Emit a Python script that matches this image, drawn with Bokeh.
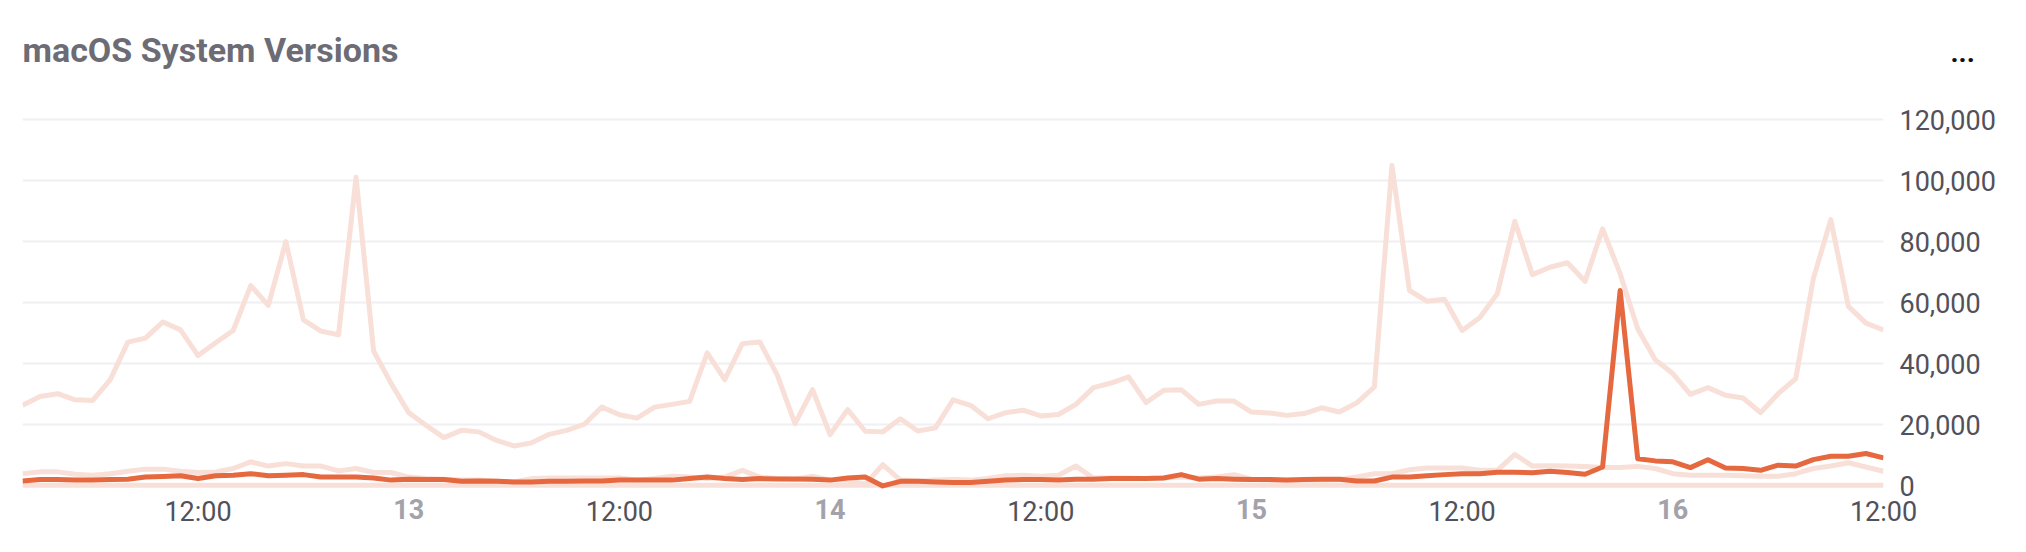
import pandas as pd
from bokeh.plotting import figure
from bokeh.models import (Range1d, FixedTicker, NumeralTickFormatter,
                          DatetimeTickFormatter, DatetimeAxis, LinearAxis)
from bokeh.embed import file_html
from bokeh.resources import INLINE

# ---------------- data (hourly samples) ----------------
start_time = "2024-03-12 02:00"
n_points = 107

series_main = [
    26400, 29300, 30200, 28200, 28000, 34800, 47100, 48400, 53700, 51100,
    42700, 46900, 50900, 65600, 59100, 80000, 54400, 50700, 49500, 101100,
    44200, 33500, 24000, 19800, 15800, 18200, 17700, 14900, 13100, 14100,
    16900, 18200, 20200, 25800, 23300, 22200, 25800, 26700, 27700, 43600,
    34800, 46600, 47100, 36200, 20400, 31500, 16800, 25000, 17900, 17700,
    22000, 18000, 19000, 28200, 26400, 22000, 24000, 24800, 22900, 23400,
    26700, 32200, 33700, 35700, 27300, 31300, 31500, 26700, 27800, 27800,
    24200, 23900, 23100, 23700, 25600, 24200, 27200, 32400, 104900, 64000,
    60500, 61100, 50900, 55100, 62900, 86700, 69200, 71600, 73100, 67000,
    84200, 69500, 51500, 41300, 36800, 30000, 32200, 29700, 28800, 24000,
    30200, 35100, 67800, 87200, 58800, 53300, 51100,
]

series_minor = [
    4000, 4600, 4600, 3800, 3500, 4000, 4800, 5500, 5500, 4800,
    4400, 4600, 5700, 7900, 6500, 7300, 6500, 6500, 4900, 5700,
    4400, 4400, 2900, 2400, 2200, 1900, 1900, 1600, 1300, 2400,
    2600, 2600, 2600, 2600, 2600, 1900, 2400, 3200, 2900, 2400,
    2900, 5100, 2900, 2400, 2100, 3200, 1900, 1900, 500, 7000,
    1900, 1600, 1900, 2100, 1900, 2400, 3300, 3500, 3200, 3500,
    6500, 2600, 2600, 2600, 2400, 2600, 2900, 2600, 2900, 3700,
    2200, 1900, 1600, 1900, 1900, 2100, 2900, 4000, 4000, 5300,
    5900, 5900, 5900, 5100, 5100, 10300, 6500, 6600, 6500, 6400,
    6000, 6000, 6400, 5700, 4000, 3500, 3500, 3500, 3300, 3200,
    3200, 4000, 5700, 6500, 7600, 6200, 4800,
]

series_flat = [
    200, 200, 200, 200, 200, 200, 200, 200, 200, 200,
    200, 200, 200, 200, 200, 200, 200, 200, 200, 200,
    200, 200, 200, 200, 200, 200, 200, 200, 200, 200,
    200, 200, 200, 200, 200, 200, 200, 200, 200, 200,
    200, 200, 200, 200, 200, 200, 200, 200, 200, 200,
    200, 200, 200, 200, 200, 200, 200, 200, 200, 200,
    200, 200, 200, 200, 200, 200, 200, 200, 200, 200,
    200, 200, 200, 200, 200, 200, 200, 200, 200, 200,
    200, 200, 200, 200, 200, 200, 200, 200, 200, 200,
    200, 200, 200, 200, 200, 200, 200, 200, 200, 200,
    200, 200, 200, 200, 200, 200, 200,
]

series_highlight = [
    1600, 2100, 2100, 1900, 1900, 2100, 2200, 2900, 3100, 3300,
    2400, 3300, 3500, 4000, 3300, 3500, 3700, 2900, 2900, 2900,
    2600, 1900, 2200, 2100, 2100, 1500, 1600, 1500, 1300, 1300,
    1500, 1500, 1600, 1600, 1900, 1900, 1900, 1900, 2400, 2900,
    2400, 2100, 2400, 2300, 2300, 2200, 1900, 2600, 2900, 0,
    1500, 1500, 1300, 1100, 1100, 1500, 1900, 2100, 2100, 1900,
    2200, 2200, 2400, 2400, 2400, 2600, 3700, 2200, 2400, 2200,
    2100, 2100, 1900, 2100, 2200, 2200, 1600, 1600, 2900, 2900,
    3300, 3700, 4000, 4000, 4500, 4500, 4300, 4800, 4400, 3800,
    6200, 64000, 8900, 8200, 7900, 6000, 8600, 5900, 5700, 5100,
    6800, 6500, 8600, 9700, 9700, 10600, 9200,
]

y_ticks = [0, 20000, 40000, 60000, 80000, 100000, 120000]
noon_ticks = ["2024-03-12 12:00", "2024-03-13 12:00", "2024-03-14 12:00",
              "2024-03-15 12:00", "2024-03-16 12:00"]
day_ticks = ["2024-03-13", "2024-03-14", "2024-03-15", "2024-03-16"]
title_text = "macOS System Versions"
menu_text = "..."

# ---------------- figure ----------------
times = pd.date_range(start_time, periods=n_points, freq="h")

PALE = "#f8dfd7"
DARK = "#e5683f"
TICK_COLOR = "#52515b"
DAY_COLOR = "#a3a2ab"

# frame spans y=50..490 px; 120,000 sits at y=119 px, 0 at ~485 px
Y_LO, Y_HI = -1500, 142600
MENU_Y = 142200

p = figure(width=2018, height=544, x_axis_type="datetime",
           y_axis_location="right", output_backend="svg",
           toolbar_location=None,
           x_range=Range1d(times[0], times[-1]),
           y_range=Range1d(Y_LO, Y_HI),
           min_border_left=22, min_border_right=135,
           min_border_top=50, min_border_bottom=54)

p.title.text = title_text
p.title.text_font = "Roboto"
p.title.text_font_size = "34px"
p.title.text_font_style = "bold"
p.title.text_color = "#6d6c75"
p.title.standoff = -38

p.outline_line_color = None
p.background_fill_color = "white"
p.border_fill_color = "white"

for s in (series_main, series_minor, series_flat):
    p.line(times, s, line_color=PALE, line_width=5, line_join="round")
p.line(times, series_highlight, line_color=DARK, line_width=5,
       line_join="round")


def plain(ax, standoff, size, color, bold=False):
    ax.axis_line_color = None
    ax.major_tick_line_color = None
    ax.minor_tick_line_color = None
    ax.major_tick_out = 0
    ax.major_tick_in = 0
    ax.major_label_standoff = standoff
    ax.major_label_text_font = "Roboto"
    ax.major_label_text_font_size = size
    ax.major_label_text_color = color
    ax.major_label_text_font_style = "bold" if bold else "normal"


# y axis (right) with the values
yax = p.yaxis[0]
yax.ticker = FixedTicker(ticks=y_ticks)
yax.formatter = NumeralTickFormatter(format="0,0")
plain(yax, 16, "27px", TICK_COLOR)

# outer right axis carrying only the "..." menu glyph, pulled back left
max_ax = LinearAxis(ticker=FixedTicker(ticks=[MENU_Y]),
                    major_label_overrides={MENU_Y: menu_text})
plain(max_ax, -48, "28px", "#111111", bold=True)
p.add_layout(max_ax, "right")


def all_formats(fmt):
    return DatetimeTickFormatter(
        microseconds=fmt, milliseconds=fmt, seconds=fmt, minsec=fmt,
        minutes=fmt, hourmin=fmt, hours=fmt, days=fmt, months=fmt,
        years=fmt)


# x axis: noon labels
xax = p.xaxis[0]
xax.ticker = FixedTicker(ticks=[pd.Timestamp(t).value / 1e6 for t in noon_ticks])
xax.formatter = all_formats("%H:%M")
plain(xax, 5, "27px", TICK_COLOR)

# second x axis: day numbers, pulled up into the same band
dax = DatetimeAxis(
    ticker=FixedTicker(ticks=[pd.Timestamp(t).value / 1e6 for t in day_ticks]),
    formatter=all_formats("%-d"))
plain(dax, -32, "27px", DAY_COLOR, bold=True)
p.add_layout(dax, "below")

p.xgrid.grid_line_color = None
p.ygrid.ticker = FixedTicker(ticks=y_ticks)
p.ygrid.grid_line_color = "#f0f0f2"
p.ygrid.grid_line_width = 2

open("out.html", "w").write(file_html(p, INLINE))
